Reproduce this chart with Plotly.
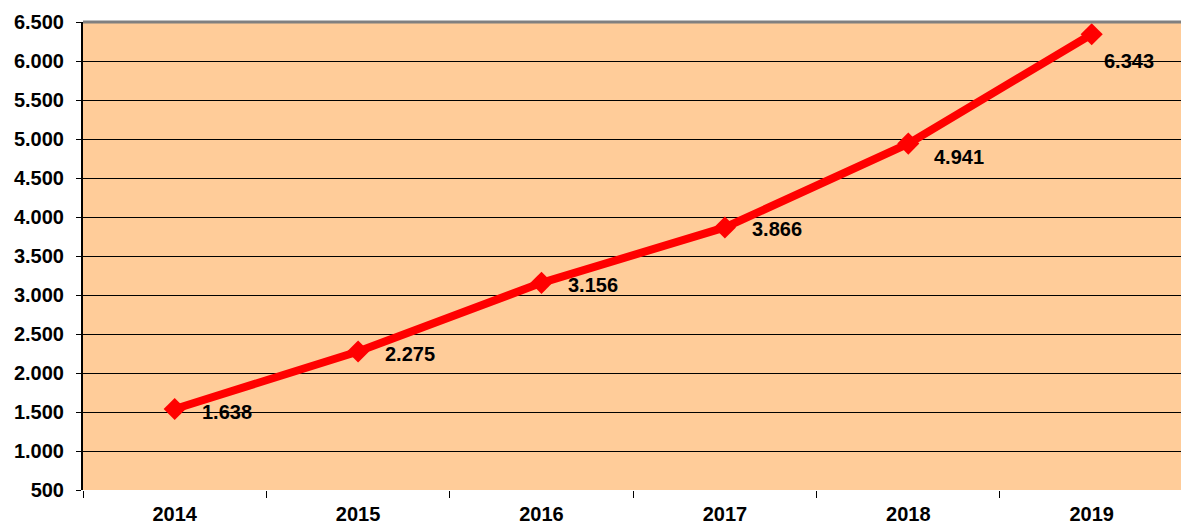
import plotly.graph_objects as go

years = ["2014", "2015", "2016", "2017", "2018", "2019"]
values = [1538, 2275, 3156, 3866, 4941, 6343]
labels = ["1.638", "2.275", "3.156", "3.866", "4.941", "6.343"]
y_ticks = list(range(500, 6501, 500))

label_dx = [25, 25, 25, 25, 24, 10]
label_dy = [-3, -2, -2, -2, -13, -27]

bold = dict(family="Liberation Sans", size=20, color="black", weight="bold")

fig = go.Figure()
fig.add_trace(go.Scatter(
    x=years, y=values, mode="lines+markers",
    line=dict(color="#FF0000", width=8),
    marker=dict(symbol="diamond", size=17, color="#FF0000"),
    showlegend=False, hoverinfo="skip",
))

for i, (v, lab, dx, dy) in enumerate(zip(values, labels, label_dx, label_dy)):
    fig.add_annotation(x=i, y=v, xref="x", yref="y", text=lab, showarrow=False,
                       xanchor="left", yanchor="middle", xshift=dx, yshift=dy,
                       font=bold)

fig.add_shape(type="line", xref="paper", yref="paper", x0=0, x1=1, y0=1, y1=1,
              line=dict(color="#808080", width=3))

fig.update_layout(
    width=1181, height=525,
    margin=dict(l=83, r=0, t=22, b=35),
    paper_bgcolor="white", plot_bgcolor="#FFCC99",
    separators=",.",
    font=bold,
    xaxis=dict(type="category", range=[-0.5, 5.487], tickson="boundaries",
               ticks="outside", ticklen=7, tickcolor="black", tickwidth=1,
               showgrid=False, showline=False, zeroline=False,
               tickfont=bold, ticklabelstandoff=10),
    yaxis=dict(range=[500, 6500], tickvals=y_ticks, tickformat=",d",
               ticks="outside", ticklen=5, tickcolor="black",
               showgrid=True, gridcolor="black", gridwidth=1,
               showline=True, linecolor="black", linewidth=2, zeroline=False,
               tickfont=bold, ticklabelstandoff=8),
)

fig.write_html("out.html", config={"displayModeBar": False},
               post_script="document.body.style.margin='0';")
